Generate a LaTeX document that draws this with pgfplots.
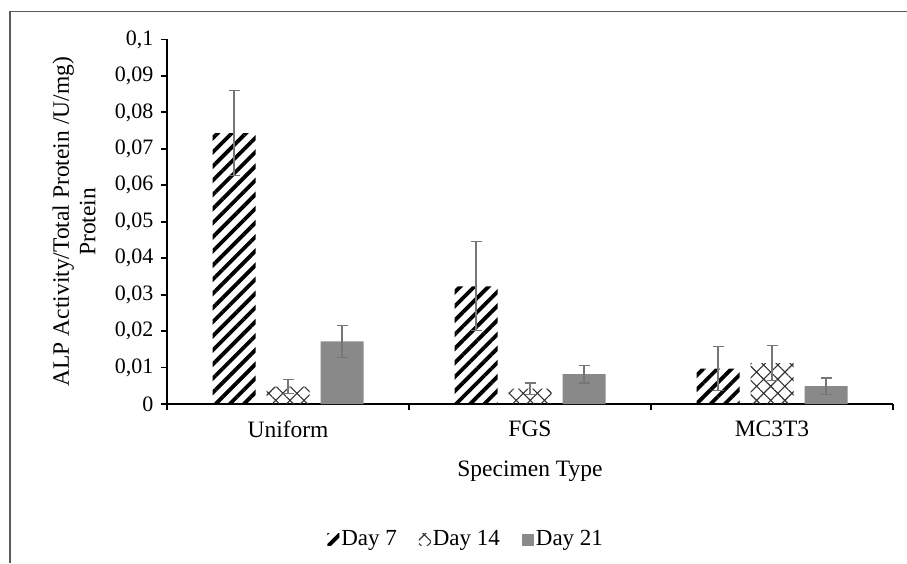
\documentclass[border=0pt]{standalone}
\usepackage{pgfplots}
\pgfplotsset{compat=1.18}
\usepackage{fontspec}
\setmainfont{Liberation Serif}
\usetikzlibrary{patterns.meta}
\definecolor{barGray}{RGB}{137,137,137}
\definecolor{errGray}{RGB}{118,118,118}
\definecolor{hatchGray}{RGB}{50,50,50}
\definecolor{frameGray}{RGB}{90,90,90}
\pgfplotsset{errb/.style={error bars/.cd, y dir=both, y explicit,
  error bar style={errGray, line width=1.3pt},
  error mark options={rotate=90, errGray, mark size=5.5pt, line width=1.3pt}}}
\begin{document}
\fontsize{22}{27}\selectfont
\begin{tikzpicture}
\useasboundingbox (0,0) rectangle (907pt,563pt);
\draw[frameGray, line width=1.3pt] (10pt,0) -- (10pt,551.3pt) -- (907pt,551.3pt);
\begin{axis}[
  at={(167pt,159pt)}, anchor=south west,
  scale only axis, width=726pt, height=364.5pt,
  ymin=0, ymax=0.1, xmin=-0.5, xmax=2.5,
  axis x line*=bottom, axis y line*=left,
  x axis line style={black, line width=2.6pt, -},
  y axis line style={black, line width=1.8pt, -},
  ybar=11pt, bar width=43pt,
  legend image code/.code={\path[#1, draw=none] (0pt,-6pt) rectangle (12pt,6pt);},
  ytick={0,0.01,0.02,0.03,0.04,0.05,0.06,0.07,0.08,0.09,0.1},
  scaled y ticks=false,
  /pgf/number format/fixed, /pgf/number format/precision=2,
  /pgf/number format/use comma, /pgf/number format/assume math mode=true,
  xtick={-0.5,0.5,1.5,2.5}, xticklabels={,,,},
  extra x ticks={0,1,2}, extra x tick labels={Uniform,FGS,MC3T3},
  extra x tick style={major tick length=0pt, tick label style={yshift=-9pt, font=\fontsize{23.5}{27}\selectfont}},
  tick align=outside, major tick length=6pt,
  tick style={black, line width=1.8pt},
  ticklabel style={font=\fontsize{22}{26}\selectfont},
  xlabel={Specimen Type},
  xlabel style={at={(axis description cs:0.5,-0.185)}, anchor=center, font=\fontsize{23.5}{27}\selectfont},
  ylabel={ALP Activity/Total Protein /U/mg)\\Protein},
  ylabel style={at={(axis description cs:-0.128,0.5)}, anchor=center, align=center, font=\fontsize{23.5}{26.5}\selectfont},
  legend style={at={(axis description cs:0.412,-0.373)}, anchor=center, draw=none,
    legend columns=3, font=\fontsize{23}{26}\selectfont,
    /tikz/every even column/.append style={column sep=20pt}},
]
\addplot[draw=none, pattern={Lines[angle=45,distance=10pt,line width=3.8pt]}, pattern color=black, errb]
  coordinates {(0,0.0743) +- (0,0.0117) (1,0.0323) +- (0,0.0122) (2,0.0097) +- (0,0.0060)};
\addlegendentry{Day 7}
\addplot[draw=none, pattern={Hatch[angle=45,distance=10pt,line width=1.1pt]}, pattern color=hatchGray, errb]
  coordinates {(0,0.0048) +- (0,0.0020) (1,0.0042) +- (0,0.0016) (2,0.0112) +- (0,0.0048)};
\addlegendentry{Day 14}
\addplot[draw=none, fill=barGray, errb]
  coordinates {(0,0.0172) +- (0,0.0044) (1,0.0082) +- (0,0.0024) (2,0.0049) +- (0,0.0022)};
\addlegendentry{Day 21}
\end{axis}
\end{tikzpicture}
\end{document}
